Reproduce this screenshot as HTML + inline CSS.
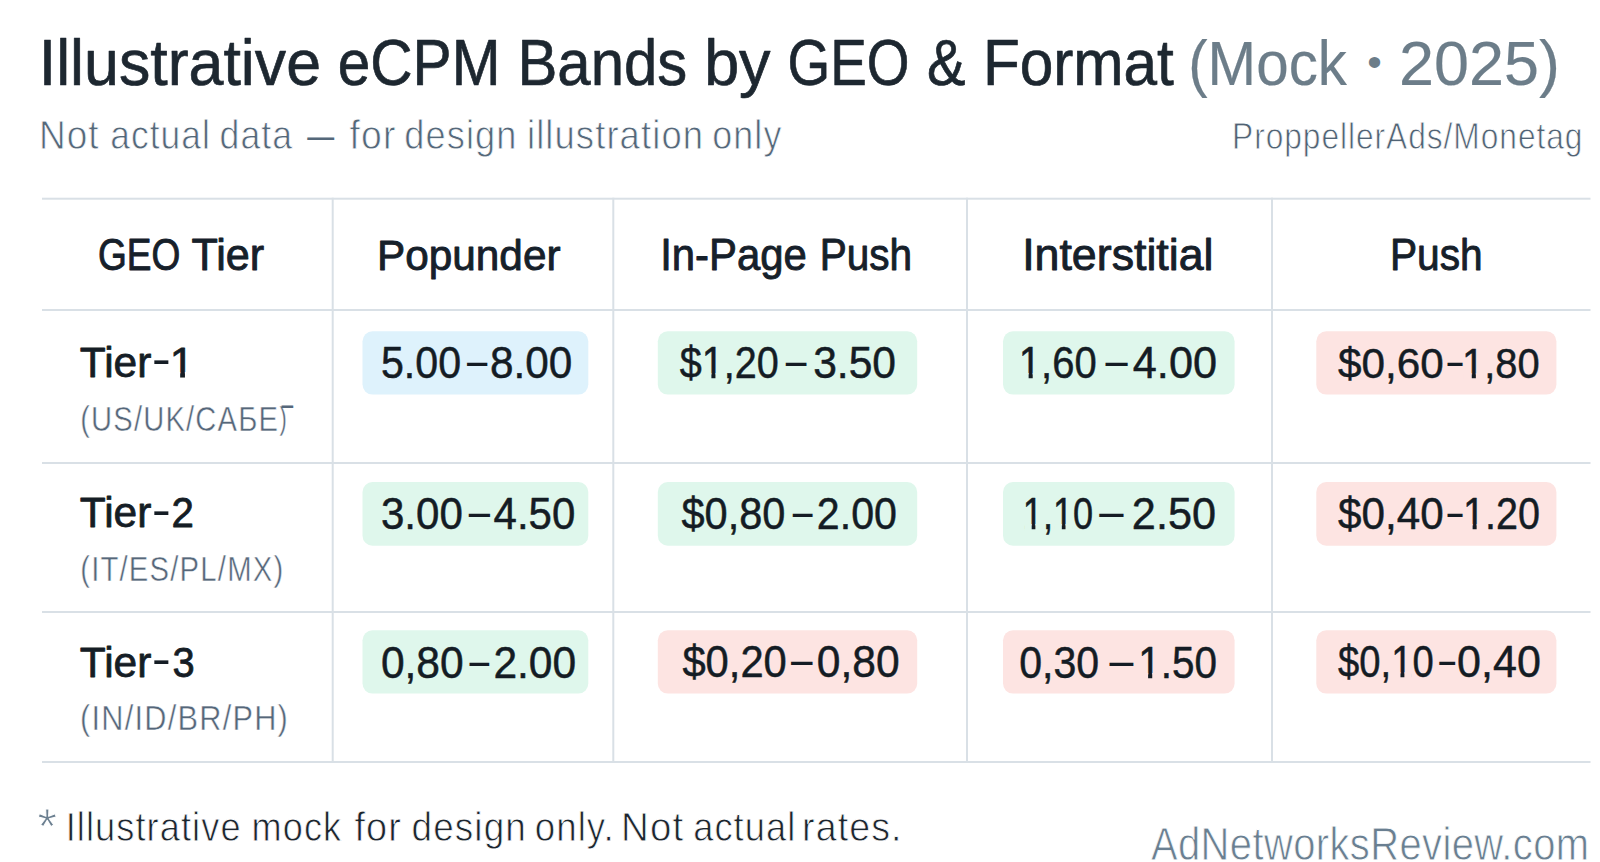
<!DOCTYPE html>
<html lang="en"><head><meta charset="utf-8"><title>Illustrative eCPM Bands by GEO &amp; Format</title>
<style>
html,body{margin:0;padding:0;background:#fff;width:1600px;height:862px;overflow:hidden}
svg{display:block}
text{font-family:'Liberation Sans', Arial, sans-serif;white-space:pre}
</style></head><body>
<svg width="1600" height="862" viewBox="0 0 1600 862">
<rect width="1600" height="862" fill="#ffffff"/>
<rect x="42" y="197.70" width="1548.50" height="2" fill="#d9e0e6"/>
<rect x="42" y="309.00" width="1548.50" height="2" fill="#d9e0e6"/>
<rect x="42" y="462.00" width="1548.50" height="2" fill="#d9e0e6"/>
<rect x="42" y="611.00" width="1548.50" height="2" fill="#d9e0e6"/>
<rect x="42" y="761.00" width="1548.50" height="2" fill="#d9e0e6"/>
<rect x="331.70" y="197.70" width="2" height="565.30" fill="#d9e0e6"/>
<rect x="612.30" y="197.70" width="2" height="565.30" fill="#d9e0e6"/>
<rect x="966.00" y="197.70" width="2" height="565.30" fill="#d9e0e6"/>
<rect x="1271.00" y="197.70" width="2" height="565.30" fill="#d9e0e6"/>
<rect x="362.5" y="331.3" width="225.8" height="63.3" rx="10" fill="#def2fc"/>
<rect x="657.8" y="331.3" width="259.4" height="63.3" rx="10" fill="#dff7ec"/>
<rect x="1003" y="331.3" width="231.6" height="63.3" rx="10" fill="#dff7ec"/>
<rect x="1316.3" y="331.3" width="240.1" height="63.3" rx="10" fill="#fde4e2"/>
<rect x="362.5" y="482.1" width="225.8" height="63.6" rx="10" fill="#dff7ec"/>
<rect x="657.8" y="482.1" width="259.4" height="63.6" rx="10" fill="#dff7ec"/>
<rect x="1003" y="482.1" width="231.6" height="63.6" rx="10" fill="#dff7ec"/>
<rect x="1316.3" y="482.1" width="240.1" height="63.6" rx="10" fill="#fde4e2"/>
<rect x="362.5" y="630.3" width="225.8" height="63.3" rx="10" fill="#dff7ec"/>
<rect x="657.8" y="630.3" width="259.4" height="63.3" rx="10" fill="#fde4e2"/>
<rect x="1003" y="630.3" width="231.6" height="63.3" rx="10" fill="#fde4e2"/>
<rect x="1316.3" y="630.3" width="240.1" height="63.3" rx="10" fill="#fde4e2"/>
<text transform="translate(38.75,84.75) scale(0.9589,1)" x="0" y="0" font-size="65.407" fill="#1d2730" stroke="#1d2730" stroke-width="0.7" stroke-linejoin="round">Illustrative </text><text transform="translate(337.71,84.75) scale(0.8957,1)" x="0" y="0" font-size="65.407" fill="#1d2730" stroke="#1d2730" stroke-width="0.7" stroke-linejoin="round">eCPM </text><text transform="translate(517.42,84.75) scale(0.9157,1)" x="0" y="0" font-size="65.407" fill="#1d2730" stroke="#1d2730" stroke-width="0.7" stroke-linejoin="round">Bands </text><text transform="translate(704.15,84.75) scale(0.9615,1)" x="0" y="0" font-size="65.407" fill="#1d2730" stroke="#1d2730" stroke-width="0.7" stroke-linejoin="round">by </text><text transform="translate(787.48,84.75) scale(0.8393,1)" x="0" y="0" font-size="65.407" fill="#1d2730" stroke="#1d2730" stroke-width="0.7" stroke-linejoin="round">GEO </text><text transform="translate(926.98,84.75) scale(0.8841,1)" x="0" y="0" font-size="65.407" fill="#1d2730" stroke="#1d2730" stroke-width="0.7" stroke-linejoin="round">&amp; </text><text transform="translate(982.89,84.75) scale(0.9220,1)" x="0" y="0" font-size="65.407" fill="#1d2730" stroke="#1d2730" stroke-width="0.7" stroke-linejoin="round">Format</text>
<text transform="translate(1188.15,84.75) scale(0.9370,1)" x="0" y="0" font-size="62.282" fill="#6c7d89" stroke="#6c7d89" stroke-width="0.2" stroke-linejoin="round">(Mock </text><text transform="translate(1367.13,76.39) scale(1.0364,1.0364)" x="0" y="0" font-size="40.000" fill="#6c7d89">• </text><text transform="translate(1398.97,84.75) scale(1.0105,1)" x="0" y="0" font-size="62.282" fill="#6c7d89" stroke="#6c7d89" stroke-width="0.2" stroke-linejoin="round">2025)</text>
<text transform="translate(38.92,149.00) scale(0.8952,1)" x="0" y="0" font-size="41.279" fill="#55687a" stroke="#ffffff" stroke-width="0.8" stroke-linejoin="round" letter-spacing="1.24">Not </text><text transform="translate(110.29,149.00) scale(0.8559,1)" x="0" y="0" font-size="41.279" fill="#55687a" stroke="#ffffff" stroke-width="0.8" stroke-linejoin="round" letter-spacing="1.24">actual </text><text transform="translate(219.52,149.00) scale(0.8642,1)" x="0" y="0" font-size="41.279" fill="#55687a" stroke="#ffffff" stroke-width="0.8" stroke-linejoin="round" letter-spacing="1.24">data</text><text transform="translate(293.78,147.70) scale(1.2114,0.9333)" x="0" y="0" font-size="40.000" fill="#55687a"> – </text><text transform="translate(349.60,149.00) scale(0.9041,1)" x="0" y="0" font-size="41.279" fill="#55687a" stroke="#ffffff" stroke-width="0.8" stroke-linejoin="round" letter-spacing="1.24">for </text><text transform="translate(404.35,149.00) scale(0.8764,1)" x="0" y="0" font-size="41.279" fill="#55687a" stroke="#ffffff" stroke-width="0.8" stroke-linejoin="round" letter-spacing="1.24">design </text><text transform="translate(526.95,149.00) scale(0.8829,1)" x="0" y="0" font-size="41.279" fill="#55687a" stroke="#ffffff" stroke-width="0.8" stroke-linejoin="round" letter-spacing="1.24">illustration </text><text transform="translate(712.26,149.00) scale(0.8697,1)" x="0" y="0" font-size="41.279" fill="#55687a" stroke="#ffffff" stroke-width="0.8" stroke-linejoin="round" letter-spacing="1.24">only</text>
<text transform="translate(1232.04,149.00) scale(0.8397,1)" x="0" y="0" font-size="37.791" fill="#516374" stroke="#ffffff" stroke-width="0.8" stroke-linejoin="round" letter-spacing="1.13">ProppellerAds/Monetag</text>
<text transform="translate(98.05,270.00) scale(0.8495,1)" x="0" y="0" font-size="43.605" fill="#16202a" stroke="#16202a" stroke-width="0.9" stroke-linejoin="round">GEO </text><text transform="translate(191.51,270.00) scale(0.9896,1)" x="0" y="0" font-size="43.605" fill="#16202a" stroke="#16202a" stroke-width="0.9" stroke-linejoin="round">Tier</text>
<text transform="translate(377.07,269.75) scale(0.9783,1)" x="0" y="0" font-size="43.241" fill="#16202a" stroke="#16202a" stroke-width="0.9" stroke-linejoin="round">Popunder</text>
<text transform="translate(660.19,270.20) scale(0.9513,1)" x="0" y="0" font-size="44.041" fill="#16202a" stroke="#16202a" stroke-width="0.9" stroke-linejoin="round">In-Page </text><text transform="translate(819.64,270.20) scale(0.9211,1)" x="0" y="0" font-size="44.041" fill="#16202a" stroke="#16202a" stroke-width="0.9" stroke-linejoin="round">Push</text>
<text transform="translate(1022.14,269.70) scale(1.0159,1)" x="0" y="0" font-size="44.041" fill="#16202a" stroke="#16202a" stroke-width="0.9" stroke-linejoin="round">Interstitial</text>
<text transform="translate(1389.95,270.00) scale(0.9335,1)" x="0" y="0" font-size="43.605" fill="#16202a" stroke="#16202a" stroke-width="0.9" stroke-linejoin="round">Push</text>
<text transform="translate(79.81,376.80) scale(0.9887,1)" x="0" y="0" font-size="42.951" fill="#151d25" stroke="#151d25" stroke-width="0.8" stroke-linejoin="round">Tier</text><text transform="translate(151.72,375.40) scale(1.4400,1.1333)" x="0" y="0" font-size="40.000" fill="#151d25">-</text><g transform="translate(169.63,376.80) scale(1.0182,1)"><text x="0" y="0" font-size="42.951" fill="#151d25" stroke="#151d25" stroke-width="0.8" stroke-linejoin="round">1</text><rect x="1.67" y="-4.81" width="8.68" height="6.41" fill="#ffffff"/><rect x="15.05" y="-4.81" width="8.34" height="6.41" fill="#ffffff"/></g>
<text transform="translate(79.81,527.25) scale(0.9887,1)" x="0" y="0" font-size="42.951" fill="#151d25" stroke="#151d25" stroke-width="0.8" stroke-linejoin="round">Tier</text><text transform="translate(151.72,525.85) scale(1.4400,1.1333)" x="0" y="0" font-size="40.000" fill="#151d25">-</text><text transform="translate(171.62,527.25) scale(0.9375,1)" x="0" y="0" font-size="42.951" fill="#151d25" stroke="#151d25" stroke-width="0.8" stroke-linejoin="round">2</text>
<text transform="translate(79.81,676.80) scale(0.9887,1)" x="0" y="0" font-size="42.951" fill="#151d25" stroke="#151d25" stroke-width="0.8" stroke-linejoin="round">Tier</text><text transform="translate(151.72,675.40) scale(1.4400,1.1333)" x="0" y="0" font-size="40.000" fill="#151d25">-</text><text transform="translate(172.57,676.80) scale(0.9286,1)" x="0" y="0" font-size="42.951" fill="#151d25" stroke="#151d25" stroke-width="0.8" stroke-linejoin="round">3</text>
<text transform="translate(80.24,430.85) scale(0.8364,1)" x="0" y="0" font-size="34.884" fill="#56677a" stroke="#ffffff" stroke-width="0.5" stroke-linejoin="round" letter-spacing="1.40">(US/UK/CAБЕ</text><text transform="translate(279.61,428.95) scale(0.5444,0.7816)" x="0" y="0" font-size="40.000" fill="#56677a" stroke="#ffffff" stroke-width="0.5" stroke-linejoin="round">)</text><text transform="translate(281.70,447.60) scale(0.5087,1.4000)" x="0" y="0" font-size="40.000" fill="#56677a">¯</text>
<text transform="translate(80.24,581.00) scale(0.8354,1)" x="0" y="0" font-size="35.102" fill="#56677a" stroke="#ffffff" stroke-width="0.5" stroke-linejoin="round" letter-spacing="1.40">(IT/ES/PL/MX)</text>
<text transform="translate(80.12,730.15) scale(0.8761,1)" x="0" y="0" font-size="35.102" fill="#56677a" stroke="#ffffff" stroke-width="0.5" stroke-linejoin="round" letter-spacing="1.40">(IN/ID/BR/PH)</text>
<text transform="translate(380.94,377.80) scale(0.9289,1)" x="0" y="0" font-size="44.331" fill="#141c24" stroke="#141c24" stroke-width="0.5" stroke-linejoin="round">5.00</text><text transform="translate(467.00,376.60) scale(0.9136,1.2000)" x="0" y="0" font-size="40.000" fill="#141c24">–</text><text transform="translate(489.89,377.80) scale(0.9554,1)" x="0" y="0" font-size="44.331" fill="#141c24" stroke="#141c24" stroke-width="0.5" stroke-linejoin="round">8.00</text>
<g transform="translate(679.70,377.90) scale(0.8991,1)"><text x="0" y="0" font-size="44.041" fill="#141c24" stroke="#141c24" stroke-width="0.5" stroke-linejoin="round">$1,20</text><rect x="26.39" y="-4.74" width="8.87" height="6.19" fill="#dff7ec"/><rect x="39.75" y="-4.74" width="8.53" height="6.19" fill="#dff7ec"/></g><text transform="translate(785.70,376.70) scale(0.9318,1.2000)" x="0" y="0" font-size="40.000" fill="#141c24">–</text><text transform="translate(813.17,377.90) scale(0.9671,1)" x="0" y="0" font-size="44.041" fill="#141c24" stroke="#141c24" stroke-width="0.5" stroke-linejoin="round">3.50</text>
<g transform="translate(1018.85,377.70) scale(0.9137,1)"><text x="0" y="0" font-size="43.750" fill="#141c24" stroke="#141c24" stroke-width="0.5" stroke-linejoin="round">1,60</text><rect x="1.88" y="-4.72" width="8.82" height="6.17" fill="#dff7ec"/><rect x="15.17" y="-4.72" width="8.48" height="6.17" fill="#dff7ec"/></g><text transform="translate(1105.40,376.50) scale(0.9955,1.2000)" x="0" y="0" font-size="40.000" fill="#141c24">–</text><text transform="translate(1132.81,377.70) scale(0.9892,1)" x="0" y="0" font-size="43.750" fill="#141c24" stroke="#141c24" stroke-width="0.5" stroke-linejoin="round">4.00</text>
<text transform="translate(1338.10,378.00) scale(0.9757,1)" x="0" y="0" font-size="43.314" fill="#141c24" stroke="#141c24" stroke-width="0.5" stroke-linejoin="round">$0,60</text><text transform="translate(1447.40,376.80) scale(0.6773,1.2000)" x="0" y="0" font-size="40.000" fill="#141c24">–</text><g transform="translate(1462.01,378.00) scale(0.9215,1)"><text x="0" y="0" font-size="43.314" fill="#141c24" stroke="#141c24" stroke-width="0.5" stroke-linejoin="round">1,80</text><rect x="1.85" y="-4.69" width="8.74" height="6.14" fill="#fde4e2"/><rect x="15.02" y="-4.69" width="8.40" height="6.14" fill="#fde4e2"/></g>
<text transform="translate(380.88,529.00) scale(0.9622,1)" x="0" y="0" font-size="43.750" fill="#141c24" stroke="#141c24" stroke-width="0.5" stroke-linejoin="round">3.00</text><text transform="translate(468.75,527.80) scale(0.9568,1.2000)" x="0" y="0" font-size="40.000" fill="#141c24">–</text><text transform="translate(493.54,529.00) scale(0.9602,1)" x="0" y="0" font-size="43.750" fill="#141c24" stroke="#141c24" stroke-width="0.5" stroke-linejoin="round">4.50</text>
<text transform="translate(681.50,528.80) scale(0.9309,1)" x="0" y="0" font-size="44.622" fill="#141c24" stroke="#141c24" stroke-width="0.5" stroke-linejoin="round">$0,80</text><text transform="translate(792.80,527.60) scale(0.8909,1.2000)" x="0" y="0" font-size="40.000" fill="#141c24">–</text><text transform="translate(816.85,528.80) scale(0.9229,1)" x="0" y="0" font-size="44.622" fill="#141c24" stroke="#141c24" stroke-width="0.5" stroke-linejoin="round">2.00</text>
<g transform="translate(1022.83,528.80) scale(0.8185,1)"><text x="0" y="0" font-size="44.186" fill="#141c24" stroke="#141c24" stroke-width="0.5" stroke-linejoin="round">1,10</text><rect x="1.92" y="-4.75" width="8.90" height="6.20" fill="#dff7ec"/><rect x="15.32" y="-4.75" width="8.55" height="6.20" fill="#dff7ec"/><rect x="38.74" y="-4.75" width="8.90" height="6.20" fill="#dff7ec"/><rect x="52.14" y="-4.75" width="8.55" height="6.20" fill="#dff7ec"/></g><text transform="translate(1099.20,527.60) scale(1.0909,1.2000)" x="0" y="0" font-size="40.000" fill="#141c24">–</text><text transform="translate(1131.84,528.80) scale(0.9795,1)" x="0" y="0" font-size="44.186" fill="#141c24" stroke="#141c24" stroke-width="0.5" stroke-linejoin="round">2.50</text>
<text transform="translate(1338.10,528.80) scale(0.9491,1)" x="0" y="0" font-size="44.477" fill="#141c24" stroke="#141c24" stroke-width="0.5" stroke-linejoin="round">$0,40</text><text transform="translate(1447.40,527.60) scale(0.6773,1.2000)" x="0" y="0" font-size="40.000" fill="#141c24">–</text><g transform="translate(1462.94,528.80) scale(0.8889,1)"><text x="0" y="0" font-size="44.477" fill="#141c24" stroke="#141c24" stroke-width="0.5" stroke-linejoin="round">1.20</text><rect x="1.94" y="-4.77" width="8.95" height="6.22" fill="#fde4e2"/><rect x="15.42" y="-4.77" width="8.60" height="6.22" fill="#fde4e2"/></g>
<text transform="translate(380.88,677.80) scale(0.9602,1)" x="0" y="0" font-size="44.331" fill="#141c24" stroke="#141c24" stroke-width="0.5" stroke-linejoin="round">0,80</text><text transform="translate(469.50,676.60) scale(0.8864,1.2000)" x="0" y="0" font-size="40.000" fill="#141c24">–</text><text transform="translate(493.38,677.80) scale(0.9602,1)" x="0" y="0" font-size="44.331" fill="#141c24" stroke="#141c24" stroke-width="0.5" stroke-linejoin="round">2.00</text>
<text transform="translate(682.40,677.00) scale(0.9477,1)" x="0" y="0" font-size="44.041" fill="#141c24" stroke="#141c24" stroke-width="0.5" stroke-linejoin="round">$0,20</text><text transform="translate(791.10,675.80) scale(0.9682,1.2000)" x="0" y="0" font-size="40.000" fill="#141c24">–</text><text transform="translate(816.77,677.00) scale(0.9659,1)" x="0" y="0" font-size="44.041" fill="#141c24" stroke="#141c24" stroke-width="0.5" stroke-linejoin="round">0,80</text>
<text transform="translate(1019.16,677.70) scale(0.9386,1)" x="0" y="0" font-size="43.750" fill="#141c24" stroke="#141c24" stroke-width="0.5" stroke-linejoin="round">0,30</text><text transform="translate(1109.40,676.50) scale(1.0727,1.2000)" x="0" y="0" font-size="40.000" fill="#141c24">–</text><g transform="translate(1138.20,677.70) scale(0.9250,1)"><text x="0" y="0" font-size="43.750" fill="#141c24" stroke="#141c24" stroke-width="0.5" stroke-linejoin="round">1.50</text><rect x="1.88" y="-4.72" width="8.82" height="6.17" fill="#fde4e2"/><rect x="15.17" y="-4.72" width="8.48" height="6.17" fill="#fde4e2"/></g>
<g transform="translate(1338.10,677.10) scale(0.8582,1)"><text x="0" y="0" font-size="44.477" fill="#141c24" stroke="#141c24" stroke-width="0.5" stroke-linejoin="round">$0,10</text><rect x="63.75" y="-4.77" width="8.95" height="6.22" fill="#fde4e2"/><rect x="77.23" y="-4.77" width="8.60" height="6.22" fill="#fde4e2"/></g><text transform="translate(1439.20,675.90) scale(0.7136,1.2000)" x="0" y="0" font-size="40.000" fill="#141c24">–</text><text transform="translate(1457.07,677.10) scale(0.9675,1)" x="0" y="0" font-size="44.477" fill="#141c24" stroke="#141c24" stroke-width="0.5" stroke-linejoin="round">0,40</text>
<text transform="translate(37.50,844.35) scale(1.2500,1.2500)" x="0" y="0" font-size="40.000" fill="#6b7f90" stroke="#ffffff" stroke-width="0.8" stroke-linejoin="round">* </text><text transform="translate(65.71,840.65) scale(0.8727,1)" x="0" y="0" font-size="41.497" fill="#1c252e" stroke="#ffffff" stroke-width="0.8" stroke-linejoin="round" letter-spacing="1.24">Illustrative </text><text transform="translate(251.59,840.65) scale(0.8704,1)" x="0" y="0" font-size="41.497" fill="#1c252e" stroke="#ffffff" stroke-width="0.8" stroke-linejoin="round" letter-spacing="1.24">mock </text><text transform="translate(354.39,840.65) scale(0.9122,1)" x="0" y="0" font-size="41.497" fill="#1c252e" stroke="#ffffff" stroke-width="0.8" stroke-linejoin="round" letter-spacing="1.24">for </text><text transform="translate(411.62,840.65) scale(0.8886,1)" x="0" y="0" font-size="41.497" fill="#1c252e" stroke="#ffffff" stroke-width="0.8" stroke-linejoin="round" letter-spacing="1.24">design </text><text transform="translate(534.63,840.65) scale(0.8843,1)" x="0" y="0" font-size="41.497" fill="#1c252e" stroke="#ffffff" stroke-width="0.8" stroke-linejoin="round" letter-spacing="1.24">only. </text><text transform="translate(621.00,840.65) scale(0.9258,1)" x="0" y="0" font-size="41.497" fill="#1c252e" stroke="#ffffff" stroke-width="0.8" stroke-linejoin="round" letter-spacing="1.24">Not </text><text transform="translate(693.15,840.65) scale(0.8732,1)" x="0" y="0" font-size="41.497" fill="#1c252e" stroke="#ffffff" stroke-width="0.8" stroke-linejoin="round" letter-spacing="1.24">actual </text><text transform="translate(802.09,840.65) scale(0.9039,1)" x="0" y="0" font-size="41.497" fill="#1c252e" stroke="#ffffff" stroke-width="0.8" stroke-linejoin="round" letter-spacing="1.24">rates.</text>
<text transform="translate(1150.94,860.30) scale(0.8617,1)" x="0" y="0" font-size="46.366" fill="#6a7f91" stroke="#ffffff" stroke-width="0.8" stroke-linejoin="round" letter-spacing="0.46">AdNetworksReview.com</text>
</svg>
</body></html>
